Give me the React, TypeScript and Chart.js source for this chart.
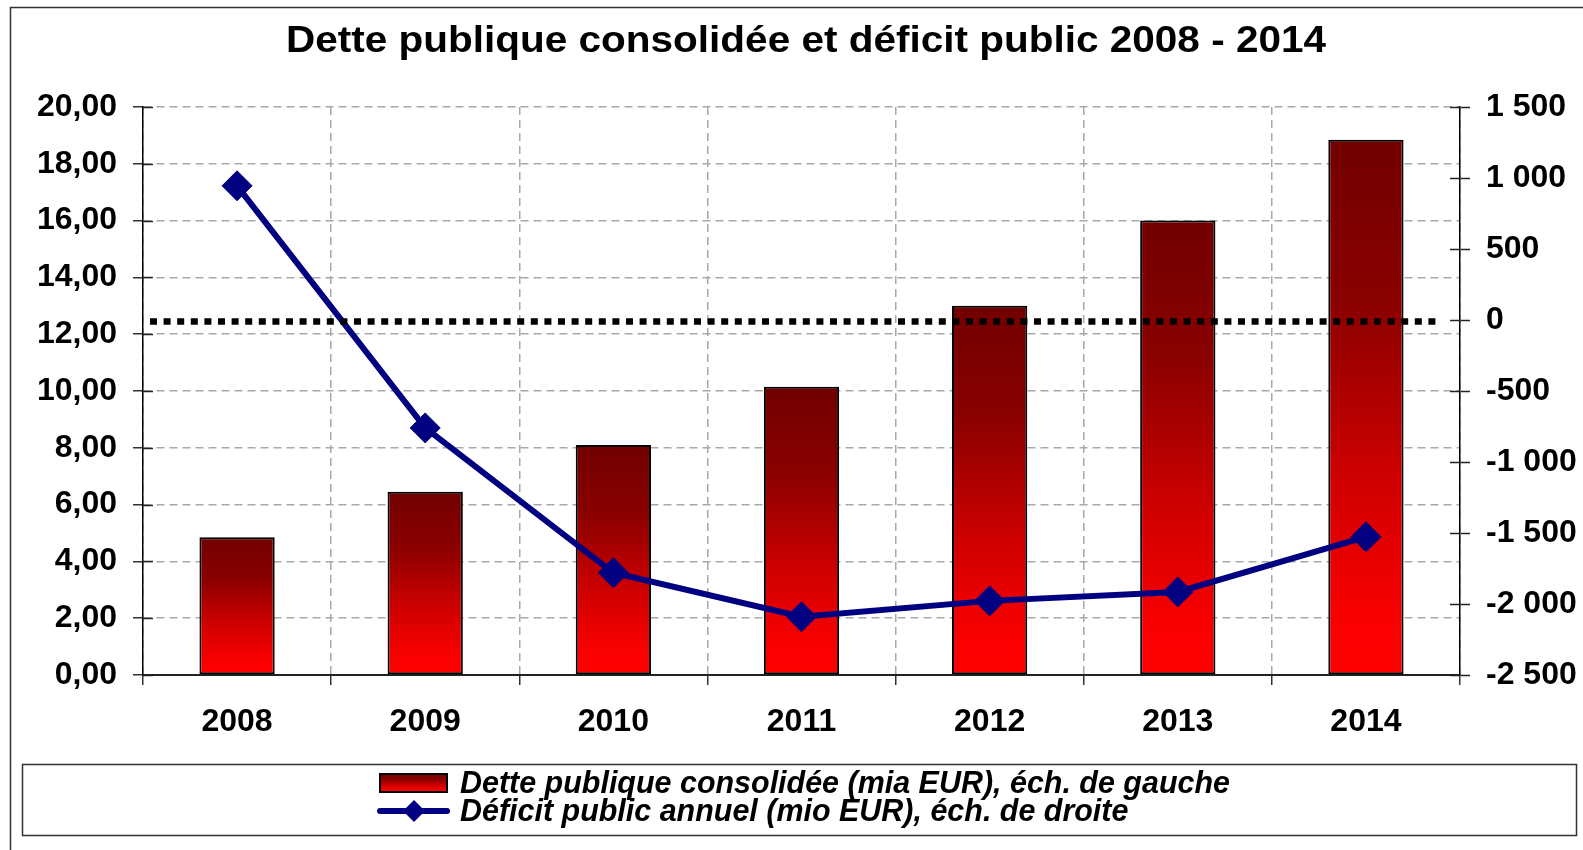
import React, { useEffect, useRef } from 'react';
import { Chart, registerables } from 'chart.js';

Chart.register(...registerables);

const TITLE = 'Dette publique consolidée et déficit public 2008 - 2014';
const YEARS = ['2008', '2009', '2010', '2011', '2012', '2013', '2014'];
const DEBT = [4.85, 6.45, 8.1, 10.15, 13.0, 16.0, 18.85];
const DEFICIT = [945, -760, -1780, -2090, -1978, -1915, -1527];
const DEBT_LABEL = 'Dette publique consolidée (mia EUR), éch. de gauche';
const DEFICIT_LABEL = 'Déficit public annuel (mio EUR), éch. de droite';
const LEFT_MIN = 0;
const LEFT_MAX = 20;
const LEFT_STEP = 2;
const RIGHT_MIN = -2500;
const RIGHT_MAX = 1500;
const RIGHT_STEP = 500;
const ZERO_LINE = 0;

const FONT = '"Liberation Sans", Arial, sans-serif';
const NAVY = '#000080';
const BAR_STOPS: [number, string][] = [
  [0, '#720000'],
  [0.3, '#8a0000'],
  [0.65, '#d20000'],
  [0.9, '#fa0000'],
  [1, '#ff0000'],
];

function fmtLeft(v: number) {
  return v.toFixed(2).replace('.', ',');
}
function fmtRight(v: number) {
  const s = Math.abs(v).toString().replace(/\B(?=(\d{3})+(?!\d))/g, ' ');
  return (v < 0 ? '-' : '') + s;
}

function barGradient(c: CanvasRenderingContext2D, yTop: number, yBot: number) {
  const g = c.createLinearGradient(0, yTop, 0, yBot);
  BAR_STOPS.forEach(([o, col]) => g.addColorStop(o, col));
  return g;
}

function fitText(c: CanvasRenderingContext2D, text: string, x: number, y: number, width: number) {
  const w = c.measureText(text).width;
  c.save();
  c.translate(x, y);
  c.scale(width / w, 1);
  c.fillText(text, 0, 0);
  c.restore();
}

const decor = {
  id: 'decor',
  beforeDraw(chart: any) {
    const c: CanvasRenderingContext2D = chart.ctx;
    const W = chart.width;
    const H = chart.height;
    c.save();
    c.fillStyle = '#fff';
    c.fillRect(0, 0, W, H);
    // outer frame
    c.strokeStyle = '#333';
    c.lineWidth = 1.5;
    c.beginPath();
    c.moveTo(10.5, H);
    c.lineTo(10.5, 7.5);
    c.lineTo(W, 7.5);
    c.stroke();
    // title
    c.fillStyle = '#000';
    c.font = `bold 36px ${FONT}`;
    c.textAlign = 'center';
    c.textBaseline = 'middle';
    fitText(c, TITLE, 806, 42, 1040);
    // legend box
    c.strokeStyle = '#333';
    c.lineWidth = 1.5;
    c.strokeRect(22.5, 764.5, 1554, 71);
    // legend symbol: bar
    c.fillStyle = barGradient(c, 774, 792);
    c.fillRect(380, 774, 67, 18);
    c.strokeStyle = '#000';
    c.lineWidth = 2;
    c.strokeRect(380, 774, 67, 18);
    // legend symbol: line + diamond
    c.strokeStyle = NAVY;
    c.lineWidth = 6;
    c.lineCap = 'round';
    c.beginPath();
    c.moveTo(380, 811);
    c.lineTo(447, 811);
    c.stroke();
    c.fillStyle = NAVY;
    c.beginPath();
    c.moveTo(414, 800);
    c.lineTo(425, 811);
    c.lineTo(414, 822);
    c.lineTo(403, 811);
    c.closePath();
    c.fill();
    // legend text (condensed to match)
    c.font = `italic bold 31px ${FONT}`;
    c.textAlign = 'left';
    c.textBaseline = 'middle';
    c.fillStyle = '#000';
    const w1 = c.measureText(DEBT_LABEL).width;
    const sx = 770 / w1;
    c.save();
    c.translate(460, 0);
    c.scale(sx, 1);
    c.fillText(DEBT_LABEL, 0, 784);
    c.fillText(DEFICIT_LABEL, 0, 812);
    c.restore();
    c.restore();
  },
  afterDatasetsDraw(chart: any) {
    const c: CanvasRenderingContext2D = chart.ctx;
    const a = chart.chartArea;
    const y = chart.scales.y1.getPixelForValue(ZERO_LINE) + 1.5;
    c.save();
    c.strokeStyle = '#000';
    c.lineWidth = 6.5;
    c.setLineDash([7, 6.6]);
    c.beginPath();
    c.moveTo(a.left + 7, y);
    c.lineTo(a.right - 18, y);
    c.stroke();
    c.restore();
  },
  afterDraw(chart: any) {
    const c: CanvasRenderingContext2D = chart.ctx;
    const a = chart.chartArea;
    c.save();
    c.strokeStyle = '#222';
    c.lineWidth = 1.5;
    const sy = chart.scales.y;
    sy.ticks.forEach((_t: any, i: number) => {
      const p = Math.round(sy.getPixelForTick(i)) + 0.5;
      c.beginPath();
      c.moveTo(a.left, p);
      c.lineTo(a.left + 10, p);
      c.stroke();
    });
    const sr = chart.scales.y1;
    sr.ticks.forEach((_t: any, i: number) => {
      const p = Math.round(sr.getPixelForTick(i)) + 0.5;
      c.beginPath();
      c.moveTo(a.right - 10, p);
      c.lineTo(a.right, p);
      c.stroke();
    });
    c.restore();
  },
};

export default function App() {
  const ref = useRef<HTMLCanvasElement | null>(null);
  useEffect(() => {
    if (!ref.current) return;
    const chart = new Chart(ref.current, {
      type: 'bar',
      data: {
        labels: YEARS,
        datasets: [
          {
            type: 'line',
            label: DEFICIT_LABEL,
            data: DEFICIT,
            yAxisID: 'y1',
            order: 0,
            borderColor: NAVY,
            backgroundColor: NAVY,
            borderWidth: 6,
            pointStyle: 'rectRot',
            pointRadius: 15,
            pointBorderWidth: 1,
            pointBackgroundColor: NAVY,
            pointBorderColor: NAVY,
            tension: 0,
          } as any,
          {
            type: 'bar',
            label: DEBT_LABEL,
            data: DEBT,
            yAxisID: 'y',
            order: 1,
            barPercentage: 0.4,
            categoryPercentage: 1,
            borderColor: '#000',
            borderWidth: 2,
            borderSkipped: false,
            backgroundColor: (ctx: any) => {
              const ch = ctx.chart;
              const sc = ch.scales && ch.scales.y;
              if (!sc || ctx.type !== 'data') return '#c00000';
              const yTop = sc.getPixelForValue(ctx.raw);
              const yBot = sc.getPixelForValue(0);
              if (!isFinite(yTop) || !isFinite(yBot) || yTop === yBot) return '#c00000';
              return barGradient(ch.ctx, yTop, yBot);
            },
          } as any,
        ],
      },
      options: {
        animation: false,
        responsive: false,
        devicePixelRatio: 1,
        layout: { padding: { top: 107, left: 0, right: 0, bottom: 0 } },
        plugins: {
          legend: { display: false },
          title: { display: false },
          tooltip: { enabled: false },
        },
        scales: {
          x: {
            offset: true,
            grid: {
              offset: true,
              color: '#a8a8a8',
              lineWidth: 1.5,
              tickLength: 10,
              tickColor: '#333',
              tickWidth: 1.5,
            },
            border: { display: true, color: '#222', width: 2, dash: [8, 5] },
            ticks: {
              font: { family: FONT, size: 32, weight: 'bold' },
              color: '#000',
              padding: 18,
              maxRotation: 0,
            },
            afterFit: (s: any) => {
              s.height = 175;
            },
          },
          y: {
            position: 'left',
            min: LEFT_MIN,
            max: LEFT_MAX,
            ticks: {
              stepSize: LEFT_STEP,
              callback: (v: any) => fmtLeft(Number(v)),
              font: { family: FONT, size: 32, weight: 'bold' },
              color: '#000',
              padding: 16,
            },
            grid: {
              color: '#a8a8a8',
              lineWidth: 1.5,
              tickLength: 10,
              tickColor: '#333',
              tickWidth: 1.5,
            },
            border: { display: true, color: '#000', width: 1.5, dash: [8, 5] },
            afterFit: (s: any) => {
              s.width = 143;
            },
          },
          y1: {
            position: 'right',
            min: RIGHT_MIN,
            max: RIGHT_MAX,
            ticks: {
              stepSize: RIGHT_STEP,
              callback: (v: any) => fmtRight(Number(v)),
              font: { family: FONT, size: 32, weight: 'bold' },
              color: '#000',
              padding: 16,
            },
            grid: {
              drawOnChartArea: false,
              tickLength: 10,
              tickColor: '#222',
              tickWidth: 1.5,
            },
            border: { display: true, color: '#000', width: 1.5 },
            afterFit: (s: any) => {
              s.width = 123;
            },
          },
        },
      } as any,
      plugins: [decor as any],
    });
    return () => chart.destroy();
  }, []);
  return (
    <div style={{ position: 'absolute', left: 0, top: 0, width: 1583, height: 850 }}>
      <canvas ref={ref} width={1583} height={850} style={{ display: 'block' }} />
    </div>
  );
}
